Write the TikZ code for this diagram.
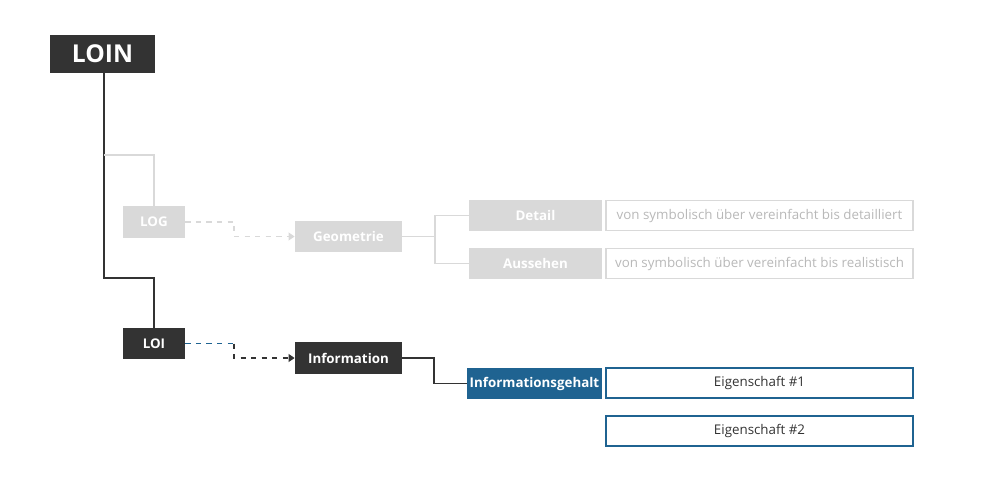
\documentclass[tikz,border=0pt]{standalone}
\usepackage{fontspec}
\setmainfont{Open Sans}
\usetikzlibrary{arrows.meta}
\definecolor{dark}{HTML}{333333}
\definecolor{pale}{HTML}{D9D9D9}
\definecolor{blau}{HTML}{1F6391}
\tikzset{
	box/.style={inner sep=0pt, font=\bfseries\fontsize{7.6}{9}\selectfont, text=white},
	darkbox/.style={box, fill=dark},
	palebox/.style={box, fill=pale},
	descbox/.style={draw, line width=0.8pt, inner sep=0pt, minimum width=307*0.02cm, minimum height=30*0.02cm, font=\fontsize{7.6}{9}\selectfont},
	link/.style={line width=1.1pt},
	tip/.style={-{Triangle[length=3.5pt,width=4.5pt]}}
}
\begin{document}
\begin{tikzpicture}[x=0.02cm,y=-0.02cm]
	\useasboundingbox (0,0) rectangle (1000,500);
	
	\node[darkbox, minimum width=105*0.02cm, minimum height=38*0.02cm, font=\bfseries\fontsize{14}{16}\selectfont] (loin) at (102.5,54) {LOIN};
	
	\node[palebox, minimum width=62*0.02cm, minimum height=32*0.02cm] (log) at (154,222) {LOG};
	\node[palebox, minimum width=107*0.02cm, minimum height=31*0.02cm] (geo) at (348.5,236.5) {Geometrie};
	\node[palebox, minimum width=133*0.02cm, minimum height=31*0.02cm] (detail) at (535.5,215.5) {Detail};
	\node[palebox, minimum width=133*0.02cm, minimum height=31*0.02cm] (auss) at (535.5,263.5) {Aussehen};
	\node[descbox, draw=pale, text=pale!85!black] (d1) at (759.5,215.5) {von symbolisch über vereinfacht bis detailliert};
	\node[descbox, draw=pale, text=pale!85!black] (d2) at (759.5,263.5) {von symbolisch über vereinfacht bis realistisch};
	
	\node[darkbox, minimum width=62*0.02cm, minimum height=31*0.02cm] (loi) at (154,343.5) {LOI};
	\node[darkbox, minimum width=107*0.02cm, minimum height=32*0.02cm] (info) at (348.5,358) {Information};
	\node[box, fill=blau, minimum width=135*0.02cm, minimum height=31*0.02cm] (gehalt) at (534.5,383.5) {Informationsgehalt};
	\node[descbox, draw=blau, text=dark] (e1) at (759.5,383) {Eigenschaft \#1};
	\node[descbox, draw=blau, text=dark] (e2) at (759.5,431) {Eigenschaft \#2};
	
	% Stamm
	\coordinate (knick) at (104,278);
	\coordinate (ast) at (104,155);
	\draw[link, dark] (loin.south -| knick) -- (knick) -| (loi.north);
	\draw[link, pale] (ast) -| (log.north);
	
	% gestrichelt
	\coordinate (g1) at (234,222);
	\coordinate (g2) at (234,343.5);
	\draw[link, pale, dashed, tip] (log.east) -- (g1) |- (geo.west);
	\draw[link, blau, dashed] (loi.east) -- (g2);
	\draw[link, dark, dashed, tip] (g2) |- (info.west);
	
	% Verzweigungen
	\coordinate (gz) at (435,236.5);
	\coordinate (iz) at (434,358);
	\draw[link, pale] (geo.east) -- (gz) |- (detail.west);
	\draw[link, pale] (gz) |- (auss.west);
	\draw[link, dark] (info.east) -- (iz) |- (gehalt.west);
\end{tikzpicture}
\end{document}
